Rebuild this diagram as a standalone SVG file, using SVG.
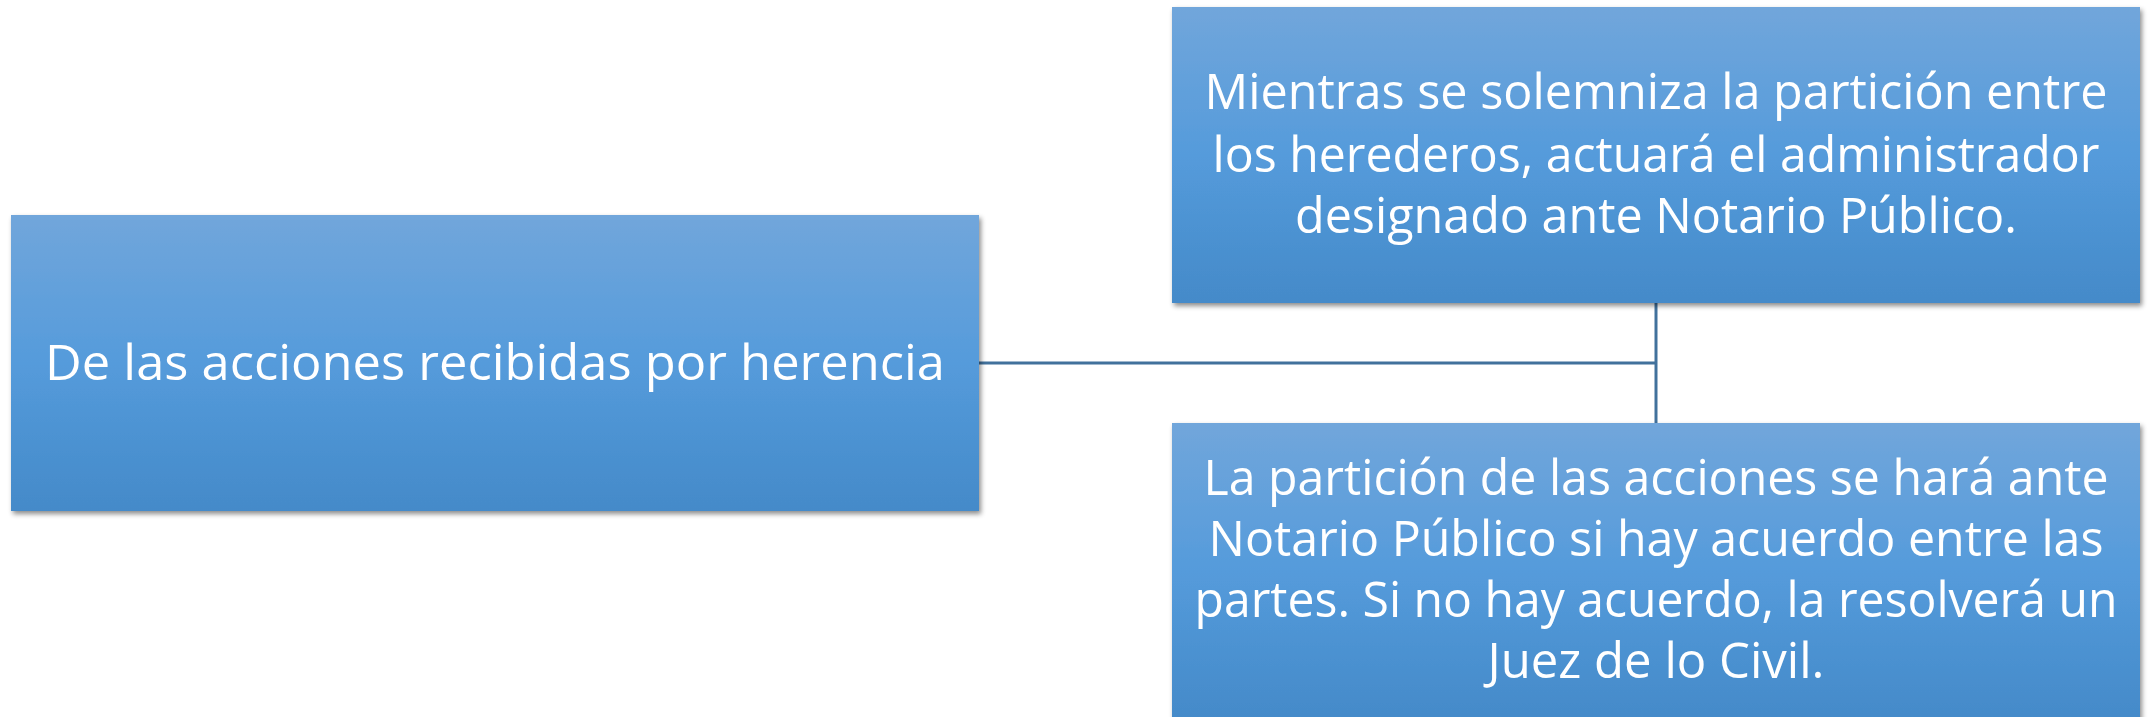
<svg xmlns="http://www.w3.org/2000/svg" width="2148" height="717" viewBox="0 0 2148 717">
  <style>
    .box { fill: url(#blueGrad); filter: url(#shadow); }
    .lbl { font-family: "Open Sans", "Liberation Sans", sans-serif; font-size: 50px; fill: #ffffff; text-anchor: middle; }
    .conn { stroke: #41719c; stroke-width: 3; fill: none; }
  </style>
  <defs>
    <linearGradient id="blueGrad" x1="0" y1="0" x2="0" y2="1">
      <stop offset="0" stop-color="#71a6db"/>
      <stop offset="0.5" stop-color="#559bdb"/>
      <stop offset="1" stop-color="#448ac9"/>
    </linearGradient>
    <filter id="shadow" x="-5%" y="-5%" width="110%" height="115%">
      <feDropShadow dx="2" dy="3" stdDeviation="2.5" flood-color="#000000" flood-opacity="0.45"/>
    </filter>
  </defs>
  <rect width="2148" height="717" fill="#ffffff"/>

  <g id="connectors">
    <line class="conn" x1="979" y1="363" x2="1656" y2="363"/>
    <line class="conn" x1="1656" y1="303" x2="1656" y2="423"/>
  </g>

  <g id="node-root">
    <rect class="box" x="11" y="215" width="968" height="296"/>
    <text class="lbl" x="495" y="380" textLength="900" lengthAdjust="spacingAndGlyphs">De las acciones recibidas por herencia</text>
  </g>

  <g id="node-top">
    <rect class="box" x="1172" y="7" width="968" height="296"/>
    <text class="lbl" x="1656" y="109" textLength="903" lengthAdjust="spacingAndGlyphs">Mientras se solemniza la partición entre</text>
    <text class="lbl" x="1656" y="172" textLength="887" lengthAdjust="spacingAndGlyphs">los herederos, actuará el administrador</text>
    <text class="lbl" x="1656" y="233" textLength="722" lengthAdjust="spacingAndGlyphs">designado ante Notario Público.</text>
  </g>

  <g id="node-bottom">
    <rect class="box" x="1172" y="423" width="968" height="296"/>
    <text class="lbl" x="1656" y="495" textLength="905" lengthAdjust="spacingAndGlyphs">La partición de las acciones se hará ante</text>
    <text class="lbl" x="1656" y="556" textLength="895" lengthAdjust="spacingAndGlyphs">Notario Público si hay acuerdo entre las</text>
    <text class="lbl" x="1656" y="617" textLength="923" lengthAdjust="spacingAndGlyphs">partes. Si no hay acuerdo, la resolverá un</text>
    <text class="lbl" x="1656" y="678" textLength="337" lengthAdjust="spacingAndGlyphs">Juez de lo Civil.</text>
  </g>
</svg>
